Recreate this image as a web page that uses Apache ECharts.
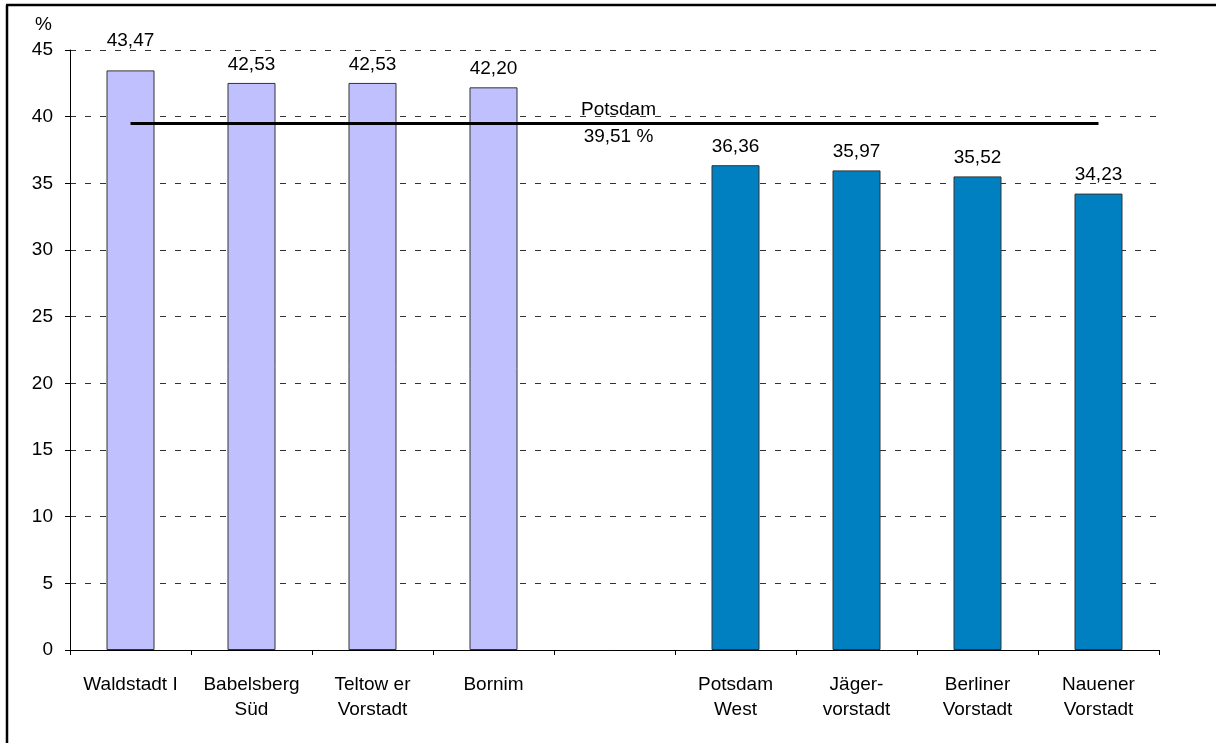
<!DOCTYPE html>
<html>
<head>
<meta charset="utf-8">
<script src="https://cdn.jsdelivr.net/npm/echarts@6/dist/echarts.min.js"></script>
<style>
html,body{margin:0;padding:0;background:#fff;}
#chart{width:1216px;height:743px;}
</style>
</head>
<body>
<div id="chart"></div>
<script>
const categories = ['Waldstadt I', 'Babelsberg\nSüd', 'Teltow er\nVorstadt', 'Bornim', '', 'Potsdam\nWest', 'Jäger-\nvorstadt', 'Berliner\nVorstadt', 'Nauener\nVorstadt'];
const values = [43.47, 42.53, 42.53, 42.20, null, 36.36, 35.97, 35.52, 34.23];
const groups = ['high', 'high', 'high', 'high', null, 'low', 'low', 'low', 'low'];
const potsdamAverage = 39.51;
const yTicks = { min: 0, max: 45, interval: 5 };

const groupColors = { high: '#C0C0FF', low: '#0080C0' };
const FONT = 'Liberation Sans, Arial, sans-serif';
const FS = 19;
const fmt = v => v.toFixed(2).replace('.', ',');

const chart = echarts.init(document.getElementById('chart'));
chart.setOption({
  animation: false,
  backgroundColor: '#fff',
  textStyle: { fontFamily: FONT, color: '#000' },
  title: { text: '%', left: 30, top: 10, textStyle: { fontFamily: FONT, fontSize: FS, fontWeight: 'normal', color: '#000' } },
  grid: { left: 70, right: 57, top: 50, bottom: 93 },
  xAxis: {
    type: 'category',
    data: categories,
    axisLine: { lineStyle: { color: '#000', width: 1 } },
    axisTick: { show: true, alignWithLabel: false, inside: false, length: 5, lineStyle: { color: '#000' } },
    axisLabel: { interval: 0, fontFamily: FONT, fontSize: FS, color: '#000', lineHeight: 25, margin: 22 },
    splitLine: { show: false }
  },
  yAxis: {
    type: 'value',
    min: yTicks.min, max: yTicks.max, interval: yTicks.interval,
    axisLine: { show: true, lineStyle: { color: '#000', width: 1 } },
    axisTick: { show: true, inside: false, length: 5, lineStyle: { color: '#000' } },
    axisLabel: { fontFamily: FONT, fontSize: FS, color: '#000', margin: 17 },
    splitLine: { show: true, lineStyle: { color: '#333', width: 1, type: [6, 9] } }
  },
  series: [{
    type: 'bar',
    barWidth: 48,
    data: values.map((v, i) => v === null ? '-' : Object.assign({
      value: v,
      itemStyle: { color: groupColors[groups[i]], borderColor: '#333', borderWidth: 1 }
    }, i === 0 ? { label: { distance: 20 } } : {})),
    label: {
      show: true, position: 'top', distance: 9,
      fontFamily: FONT, fontSize: FS, color: '#000',
      formatter: p => fmt(p.value)
    },
    markLine: {
      silent: true,
      symbol: ['none', 'none'],
      lineStyle: { color: '#000', width: 3, type: 'solid' },
      label: {
        show: true, position: 'insideMiddle',
        formatter: 'Potsdam\n' + fmt(potsdamAverage) + ' %',
        fontFamily: FONT, fontSize: FS, color: '#000', lineHeight: 27,
        offset: [4, 0]
      },
      data: [[
        { coord: [0, potsdamAverage] },
        { coord: [categories.length - 1, potsdamAverage] }
      ]]
    }
  }],
  graphic: [
    { type: 'line', silent: true, shape: { x1: 7, y1: 5, x2: 7, y2: 743 }, style: { stroke: '#000', lineWidth: 2.5 } },
    { type: 'line', silent: true, shape: { x1: 6, y1: 5, x2: 1216, y2: 5 }, style: { stroke: '#000', lineWidth: 2.5 } }
  ]
});
</script>
</body>
</html>
